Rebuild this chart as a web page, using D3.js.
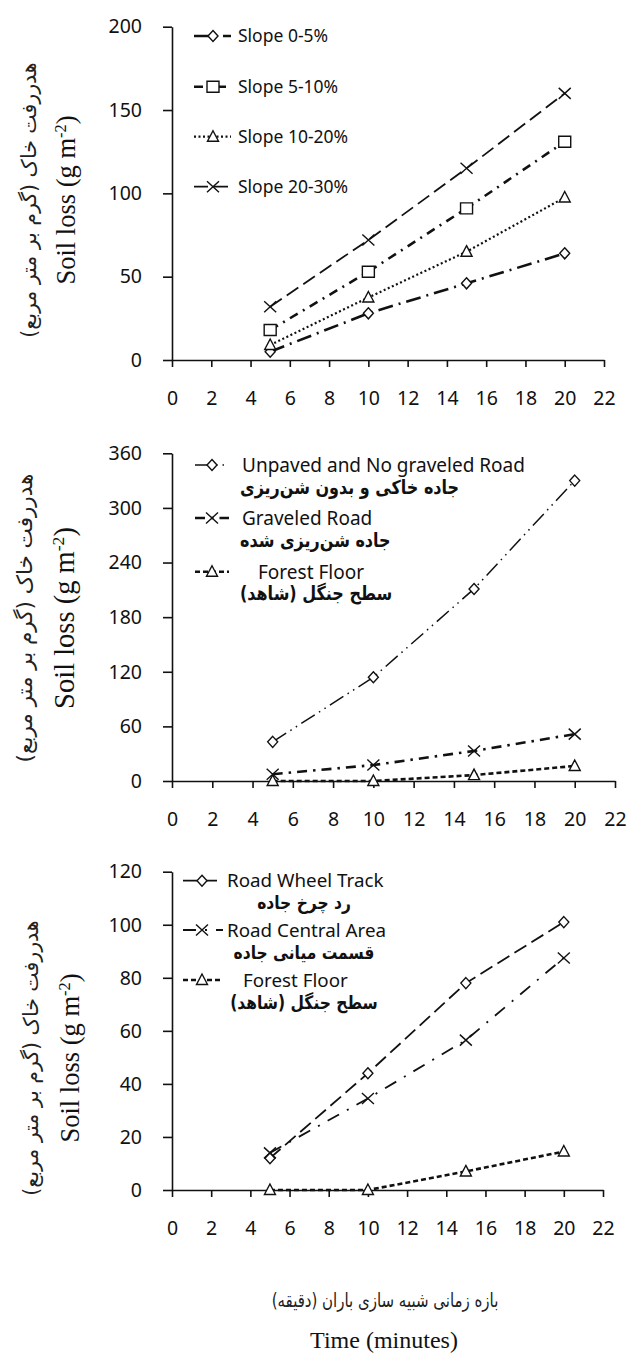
<!DOCTYPE html>
<html lang="en">
<head>
<meta charset="UTF-8">
<title>Soil loss</title>
<script src="https://cdn.jsdelivr.net/npm/d3@7"></script>
<style>
  body { margin: 0; background: #fff; }
  .tick text { font-family: "Noto Sans", sans-serif; font-size: 19.5px; fill: #111; }
  .leg { font-family: "Noto Sans", sans-serif; fill: #111; }
  .fa { font-family: "DejaVu Sans", sans-serif; font-weight: bold; fill: #111; }
</style>
</head>
<body>
<svg id="svg" width="635" height="1353"></svg>
<script>
// ---- data ----
const minutes = [5, 10, 15, 20];
const xTickValues = [0, 2, 4, 6, 8, 10, 12, 14, 16, 18, 20, 22];

// panel 1 - slope classes
const slopeNames = ["Slope 0-5%", "Slope 5-10%", "Slope 10-20%", "Slope 20-30%"];
const slope0to5 = [5, 28, 46, 64];
const slope5to10 = [18, 53, 91, 131];
const slope10to20 = [9, 37.5, 65, 97.5];
const slope20to30 = [32, 72, 115, 160];
const yTicks1 = [0, 50, 100, 150, 200];

// panel 2 - road surface
const surfaceNames = ["Unpaved and No graveled Road", "Graveled Road", "Forest Floor"];
const surfaceNamesFa = ["جاده خاکی و بدون شن‌ریزی", "جاده شن‌ریزی شده", "سطح جنگل (شاهد)"];
const unpavedRoad = [43, 114, 211, 330];
const graveledRoad = [7.5, 17.5, 33, 51.5];
const forestFloor2 = [0, 0, 6.5, 16.5];
const yTicks2 = [0, 60, 120, 180, 240, 300, 360];

// panel 3 - road position
const positionNames = ["Road Wheel Track", "Road Central Area", "Forest Floor"];
const positionNamesFa = ["رد چرخ جاده", "قسمت میانی جاده", "سطح جنگل (شاهد)"];
const wheelTrack = [12, 44, 78, 101];
const centralArea = [14, 34.5, 56.5, 87.5];
const forestFloor3 = [0, 0, 7, 14.5];
const yTicks3 = [0, 20, 40, 60, 80, 100, 120];

const yTitleEn = "Soil loss (g m";
const yTitleFa = "هدررفت خاک (گرم بر متر مربع)";
const xTitleFa = "بازه زمانی شبیه سازی باران (دقیقه)";
const xTitleEn = "Time (minutes)";

// ---- markers ----
const markers = {
  diamond: "M0,-5.5L5,0L0,5.5L-5,0Z",
  square: "M-6,-5.5H6V5.5H-6Z",
  triangle: "M0,-6L5.5,4.5H-5.5Z",
  cross: "M-6,-5.5L6,5.5M6,-5.5L-6,5.5"
};

// ---- layout of the three panels ----
const panels = [
  {
    left: 172, right: 604, top: 26.7, bottom: 360, yMax: 200, yTicks: yTicks1,
    titleEnX: 66, titleFaX: 29, titleY: 200, titleSize: 26.5, titleFaSize: 20.5,
    series: [
      {name: slopeNames[0], values: slope0to5, marker: "diamond", dash: "15,6,2,6", width: 2.6},
      {name: slopeNames[1], values: slope5to10, marker: "square", dash: "9,6,2,6", width: 2.6},
      {name: slopeNames[2], values: slope10to20, marker: "triangle", dash: "2,2.5", width: 2.2},
      {name: slopeNames[3], values: slope20to30, marker: "cross", dash: "14,6", width: 1.8}
    ],
    legend: {x0: 194, x1: 231, mx: 213, tx: [238, 238, 238, 238], ty: [36, 86.7, 136.7, 186.7], size: 17.5}
  },
  {
    left: 172, right: 615, top: 453.3, bottom: 781, yMax: 360, yTicks: yTicks2,
    titleEnX: 64, titleFaX: 24, titleY: 618, titleSize: 28.5, titleFaSize: 21.5,
    series: [
      {name: surfaceNames[0], fa: surfaceNamesFa[0], values: unpavedRoad, marker: "diamond", dash: "16,5,1.5,5,1.5,5", width: 1.5},
      {name: surfaceNames[1], fa: surfaceNamesFa[1], values: graveledRoad, marker: "cross", dash: "10,6,2.5,6", width: 2.6},
      {name: surfaceNames[2], fa: surfaceNamesFa[2], values: forestFloor2, marker: "triangle", dash: "5,3", width: 2.6}
    ],
    legend: {x0: 195, x1: 229, mx: 212, tx: [242, 242, 258], ty: [465, 518, 571.7], size: 19,
             fy: [487, 540, 593], fx: 240, fAnchor: "end", fSize: 16}
  },
  {
    left: 172, right: 603, top: 871.7, bottom: 1190, yMax: 120, yTicks: yTicks3,
    titleEnX: 70, titleFaX: 31, titleY: 1058, titleSize: 26.5, titleFaSize: 20.5,
    series: [
      {name: positionNames[0], fa: positionNamesFa[0], values: wheelTrack, marker: "diamond", dash: "14,6", width: 1.8},
      {name: positionNames[1], fa: positionNamesFa[1], values: centralArea, marker: "cross", dash: "13,9,2,9", width: 1.8},
      {name: positionNames[2], fa: positionNamesFa[2], values: forestFloor3, marker: "triangle", dash: "5,3", width: 2.6}
    ],
    legend: {x0: 183, x1: 223, mx: 202, tx: [227, 227, 243], ty: [880.7, 930, 980], size: 18.8,
             fy: [902, 952, 1002], fx: 304, fAnchor: "middle", fSize: 15.5}
  }
];

const svg = d3.select("#svg");

panels.forEach(p => {
  const x = d3.scaleLinear().domain([0, 22]).range([p.left, p.right]);
  const y = d3.scaleLinear().domain([0, p.yMax]).range([p.bottom, p.top]);
  const g = svg.append("g");

  const xAxis = d3.axisBottom(x).tickValues(xTickValues).tickSize(7).tickSizeOuter(0).tickPadding(24);
  const yAxis = d3.axisLeft(y).tickValues(p.yTicks).tickSize(9).tickSizeOuter(0).tickPadding(21);

  g.append("g").attr("transform", `translate(0,${p.bottom})`).call(xAxis);
  g.append("g").attr("transform", `translate(${p.left},0)`).call(yAxis);
  g.selectAll(".domain, .tick line").attr("stroke", "#111").attr("stroke-width", 1.6);

  const line = d3.line().x((d, i) => x(minutes[i])).y(d => y(d));

  p.series.forEach(s => {
    g.append("path")
      .attr("d", line(s.values))
      .attr("fill", "none")
      .attr("stroke", "#111")
      .attr("stroke-width", s.width)
      .attr("stroke-dasharray", s.dash);
  });
  p.series.forEach(s => {
    g.selectAll(null).data(s.values).join("path")
      .attr("d", markers[s.marker])
      .attr("transform", (d, i) => `translate(${x(minutes[i])},${y(d)})`)
      .attr("fill", "#fff")
      .attr("stroke", "#111")
      .attr("stroke-width", 1.4);
  });

  // legend
  const L = p.legend;
  p.series.forEach((s, i) => {
    const ly = L.ty[i];
    g.append("line")
      .attr("x1", L.x0).attr("x2", L.x1).attr("y1", ly).attr("y2", ly)
      .attr("stroke", "#111").attr("stroke-width", s.width).attr("stroke-dasharray", s.dash);
    g.append("path").attr("d", markers[s.marker])
      .attr("transform", `translate(${L.mx},${ly})`)
      .attr("fill", "#fff").attr("stroke", "#111").attr("stroke-width", 1.4);
    g.append("text").attr("class", "leg")
      .attr("x", L.tx[i]).attr("y", ly).attr("dy", "0.36em")
      .style("font-size", L.size + "px")
      .text(s.name);
    if (s.fa) {
      // persian glyphs in the figure are taller, stretch them a bit
      g.append("text").attr("class", "fa")
        .attr("transform", `translate(${L.fx},${L.fy[i]}) scale(1,1.2)`)
        .attr("dy", "0.36em")
        .attr("direction", "rtl").attr("text-anchor", L.fAnchor)
        .style("font-size", L.fSize + "px")
        .text(s.fa);
    }
  });

  // y titles
  const tEn = g.append("text")
    .attr("transform", `translate(${p.titleEnX},${p.titleY}) rotate(-90)`)
    .attr("text-anchor", "middle").attr("dy", "0.35em")
    .style("font-family", "'Liberation Serif', serif").style("font-size", p.titleSize + "px")
    .attr("fill", "#111");
  tEn.append("tspan").text(yTitleEn);
  tEn.append("tspan").attr("baseline-shift", "super").style("font-size", "62%").text("-2");
  tEn.append("tspan").text(")");

  g.append("text")
    .attr("transform", `translate(${p.titleFaX},${p.titleY}) rotate(-90)`)
    .attr("text-anchor", "middle").attr("dy", "0.35em").attr("direction", "rtl")
    .style("font-family", "'DejaVu Sans', sans-serif").style("font-size", p.titleFaSize + "px")
    .attr("fill", "#222")
    .text(yTitleFa);
});

// x titles
svg.append("text")
  .attr("transform", "translate(385,1300) scale(1,1.3)")
  .attr("dy", "0.35em")
  .attr("text-anchor", "middle").attr("direction", "rtl")
  .style("font-family", "'DejaVu Sans', sans-serif").style("font-size", "15px")
  .attr("fill", "#222")
  .text(xTitleFa);

svg.append("text")
  .attr("x", 384).attr("y", 1348)
  .attr("text-anchor", "middle")
  .style("font-family", "'Liberation Serif', serif").style("font-size", "24px")
  .attr("fill", "#111")
  .text(xTitleEn);
</script>
</body>
</html>
